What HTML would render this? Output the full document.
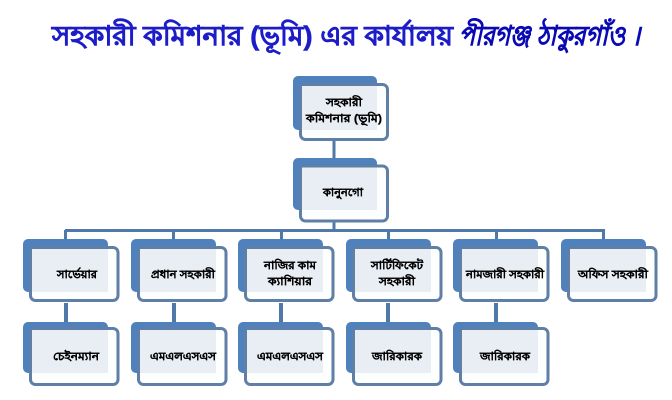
<!DOCTYPE html>
<html lang="bn">
<head>
<meta charset="utf-8">
<style>
html,body{margin:0;padding:0;background:#fff}
svg{display:block}
text{font-family:"Liberation Sans","Noto Sans CJK SC",sans-serif;text-anchor:middle}
.t{font-size:11px;font-weight:bold;fill:#000;stroke:#000;stroke-width:.25px}
.h{font-size:27px;font-weight:bold;stroke-width:.5px}
</style>
</head>
<body>
<svg width="672" height="400" viewBox="0 0 672 400" xmlns="http://www.w3.org/2000/svg">
<defs>
<g id="b0">
<rect x="0" y="0" width="84" height="54" rx="5" fill="#4f81bd"/>
<rect x="7.500" y="8.500" width="87" height="55" rx="5" fill="#fdfefe" stroke="#5f7fa6" stroke-width="3"/>
<rect x="9" y="10" width="75" height="44" fill="#e9eef5"/>
</g>
<g id="b1">
<rect x="0" y="0" width="84" height="52" rx="5" fill="#4f81bd"/>
<rect x="7.500" y="8" width="87" height="55" rx="5" fill="#fdfefe" stroke="#5f7fa6" stroke-width="3"/>
<rect x="9" y="9.500" width="75" height="42.500" fill="#e9eef5"/>
</g>
<g id="b2">
<rect x="0" y="0" width="85" height="53" rx="5" fill="#4f81bd"/>
<rect x="7.500" y="8.500" width="87.500" height="53" rx="5" fill="#fdfefe" stroke="#5f7fa6" stroke-width="3"/>
<rect x="9" y="10" width="76" height="43" fill="#e9eef5"/>
</g>
<g id="b3">
<rect x="0" y="0" width="85" height="51" rx="5" fill="#4f81bd"/>
<rect x="7.500" y="6.500" width="87.500" height="56" rx="5" fill="#fdfefe" stroke="#5f7fa6" stroke-width="3"/>
<rect x="9" y="8" width="76" height="43" fill="#e9eef5"/>
</g>
</defs>

<text class="h" x="252.500" y="45" fill="#1c1cc8" stroke="#1c1cc8" textLength="401" lengthAdjust="spacingAndGlyphs">সহকারী কমিশনার (ভূমি) এর কার্যালয়</text>
<text class="h" x="549.500" y="45" fill="#0a0ab4" stroke="#0a0ab4" font-style="italic" textLength="181" lengthAdjust="spacingAndGlyphs">পীরগঞ্জ ঠাকুরগাঁও ।</text>

<g fill="#4f7aa8">
<rect x="332.500" y="140" width="3" height="19"/>
<rect x="332.500" y="222" width="3" height="9"/>
<rect x="65" y="229" width="540" height="3"/>
<rect x="64" y="230" width="3" height="10"/><rect x="172" y="230" width="3" height="10"/>
<rect x="280" y="230" width="3" height="10"/><rect x="387" y="230" width="3" height="10"/>
<rect x="495" y="230" width="3" height="10"/><rect x="602" y="230" width="3" height="10"/>
<rect x="64" y="303" width="4" height="20"/><rect x="172" y="303" width="4" height="20"/>
<rect x="279" y="303" width="4" height="20"/><rect x="386" y="303" width="4" height="20"/>
<rect x="494" y="303" width="4" height="20"/>
</g>

<use href="#b0" x="293" y="76"/>
<use href="#b1" x="293" y="158"/>
<use href="#b2" x="23" y="239"/>
<use href="#b2" x="131" y="239"/>
<use href="#b2" x="238" y="239"/>
<use href="#b2" x="346" y="239"/>
<use href="#b2" x="453" y="239"/>
<use href="#b2" x="561" y="239"/>
<use href="#b3" x="23" y="322"/>
<use href="#b3" x="131" y="322"/>
<use href="#b3" x="238" y="322"/>
<use href="#b3" x="346" y="322"/>
<use href="#b3" x="453" y="322"/>

<text class="t" x="344" y="106" textLength="36" lengthAdjust="spacingAndGlyphs">সহকারী</text>
<text class="t" x="344" y="122" textLength="76" lengthAdjust="spacingAndGlyphs">কমিশনার (ভূমি)</text>
<text class="t" x="343" y="196" textLength="40" lengthAdjust="spacingAndGlyphs">কানুনগো</text>

<text class="t" x="77" y="278" textLength="40" lengthAdjust="spacingAndGlyphs">সার্ভেয়ার</text>
<text class="t" x="183" y="278" textLength="64" lengthAdjust="spacingAndGlyphs">প্রধান সহকারী</text>
<text class="t" x="290" y="269" textLength="52" lengthAdjust="spacingAndGlyphs">নাজির কাম</text>
<text class="t" x="290" y="285" textLength="44" lengthAdjust="spacingAndGlyphs">ক্যাশিয়ার</text>
<text class="t" x="397" y="269" textLength="52" lengthAdjust="spacingAndGlyphs">সার্টিফিকেট</text>
<text class="t" x="397" y="285" textLength="36" lengthAdjust="spacingAndGlyphs">সহকারী</text>
<text class="t" x="505" y="278" textLength="78" lengthAdjust="spacingAndGlyphs">নামজারী সহকারী</text>
<text class="t" x="613" y="278" textLength="70" lengthAdjust="spacingAndGlyphs">অফিস সহকারী</text>

<text class="t" x="76" y="360" textLength="46" lengthAdjust="spacingAndGlyphs">চেইনম্যান</text>
<text class="t" x="183" y="360" textLength="66" lengthAdjust="spacingAndGlyphs">এমএলএসএস</text>
<text class="t" x="290" y="360" textLength="66" lengthAdjust="spacingAndGlyphs">এমএলএসএস</text>
<text class="t" x="397" y="360" textLength="50" lengthAdjust="spacingAndGlyphs">জারিকারক</text>
<text class="t" x="505" y="360" textLength="50" lengthAdjust="spacingAndGlyphs">জারিকারক</text>
</svg>
</body>
</html>
